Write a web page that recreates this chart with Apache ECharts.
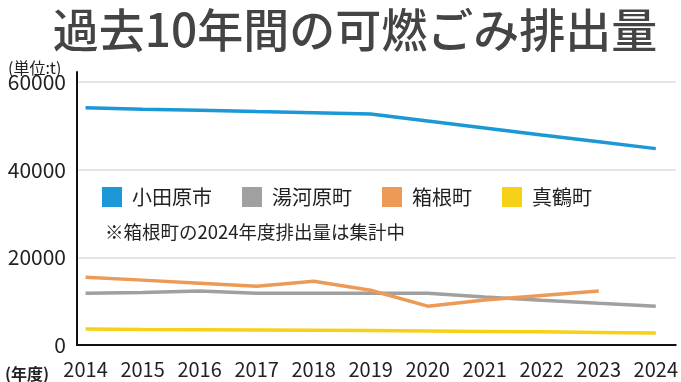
<!DOCTYPE html>
<html><head><meta charset="utf-8">
<script src="https://cdn.jsdelivr.net/npm/echarts@6/dist/echarts.min.js"></script>
<style>html,body{margin:0;padding:0;background:#fff}#c{width:681px;height:382px}</style>
</head><body><div id="c"></div>
<script>
const years = [2014,2015,2016,2017,2018,2019,2020,2021,2022,2023,2024];
const yTicks = [0,20000,40000,60000];
const odawara = [54100,53800,53550,53250,53000,52700,51100,49500,47900,46350,44800];
const yugawara = [11800,12000,12300,11800,11800,11800,11800,10950,10200,9500,8860];
const hakone = [15450,14800,14100,13400,14550,12500,8860,10250,11300,12300,null];
const manazuru = [3640,3550,3480,3420,3360,3300,3200,3100,3000,2880,2730];
const names = ['小田原市','湯河原町','箱根町','真鶴町'];
const colors = ['#1b98d5','#a0a0a0','#ec9a55','#f7d117'];
const title = '過去10年間の可燃ごみ排出量';
const unitLabel = '(単位:t)';
const yearLabel = '(年度)';
const note = '※箱根町の2024年度排出量は集計中';

const FONT = '"Noto Sans CJK JP","Noto Sans",sans-serif';
const pair = arr => years.map((y,i)=>[y,arr[i]]);
const seriesData = [odawara,yugawara,hakone,manazuru];

const chart = echarts.init(document.getElementById('c'), null, {renderer:'canvas'});
chart.setOption({
  animation:false,
  textStyle:{fontFamily:FONT},
  title:[
    {text:title,left:350,top:2,textAlign:'center',textStyle:{fontFamily:FONT,fontSize:46,fontWeight:500,color:'#444'}},
    {text:unitLabel,left:3,top:55,textStyle:{fontFamily:FONT,fontSize:16,fontWeight:'normal',color:'#222'}},
    {text:yearLabel,left:0,top:361,textStyle:{fontFamily:FONT,fontSize:16,fontWeight:'bold',color:'#222'}},
    {text:note,left:100,top:218,textStyle:{fontFamily:FONT,fontSize:18.5,fontWeight:'normal',color:'#222'}}
  ],
  legend:{
    left:102,top:187,padding:0,icon:'rect',itemWidth:20,itemHeight:20,itemGap:30,
    textStyle:{fontFamily:FONT,fontSize:20,color:'#222',padding:[0,0,0,5]},
    data:names
  },
  grid:[
    {left:77,right:0,top:82,bottom:37},
    {left:77,right:0,top:72,bottom:37}
  ],
  xAxis:[
    {type:'value',gridIndex:0,min:2013.85,max:2024.35,
     axisLine:{show:true,lineStyle:{color:'#111',width:2}},
     axisTick:{show:false},splitLine:{show:false},
     axisLabel:{customValues:years,margin:14,fontSize:20,color:'#222',fontFamily:FONT,formatter:v=>String(v)}},
    {type:'value',gridIndex:1,show:false,min:0,max:1}
  ],
  yAxis:[
    {type:'value',gridIndex:0,min:0,max:60000,interval:20000,
     axisLine:{show:false},axisTick:{show:false},
     splitLine:{show:true,lineStyle:{color:'#dcdcdc',width:1.5}},
     axisLabel:{customValues:yTicks,margin:11,fontSize:21,color:'#222',fontFamily:FONT,formatter:v=>String(v)}},
    {type:'value',gridIndex:1,min:0,max:1,
     axisLine:{show:true,lineStyle:{color:'#111',width:2}},
     axisTick:{show:false},axisLabel:{show:false},splitLine:{show:false}}
  ],
  series:names.map((n,i)=>({
    name:n,type:'line',xAxisIndex:0,yAxisIndex:0,
    data:pair(seriesData[i]),showSymbol:false,symbol:'none',
    lineStyle:{color:colors[i],width:3.5},itemStyle:{color:colors[i]},
    connectNulls:false
  }))
});
</script></body></html>
